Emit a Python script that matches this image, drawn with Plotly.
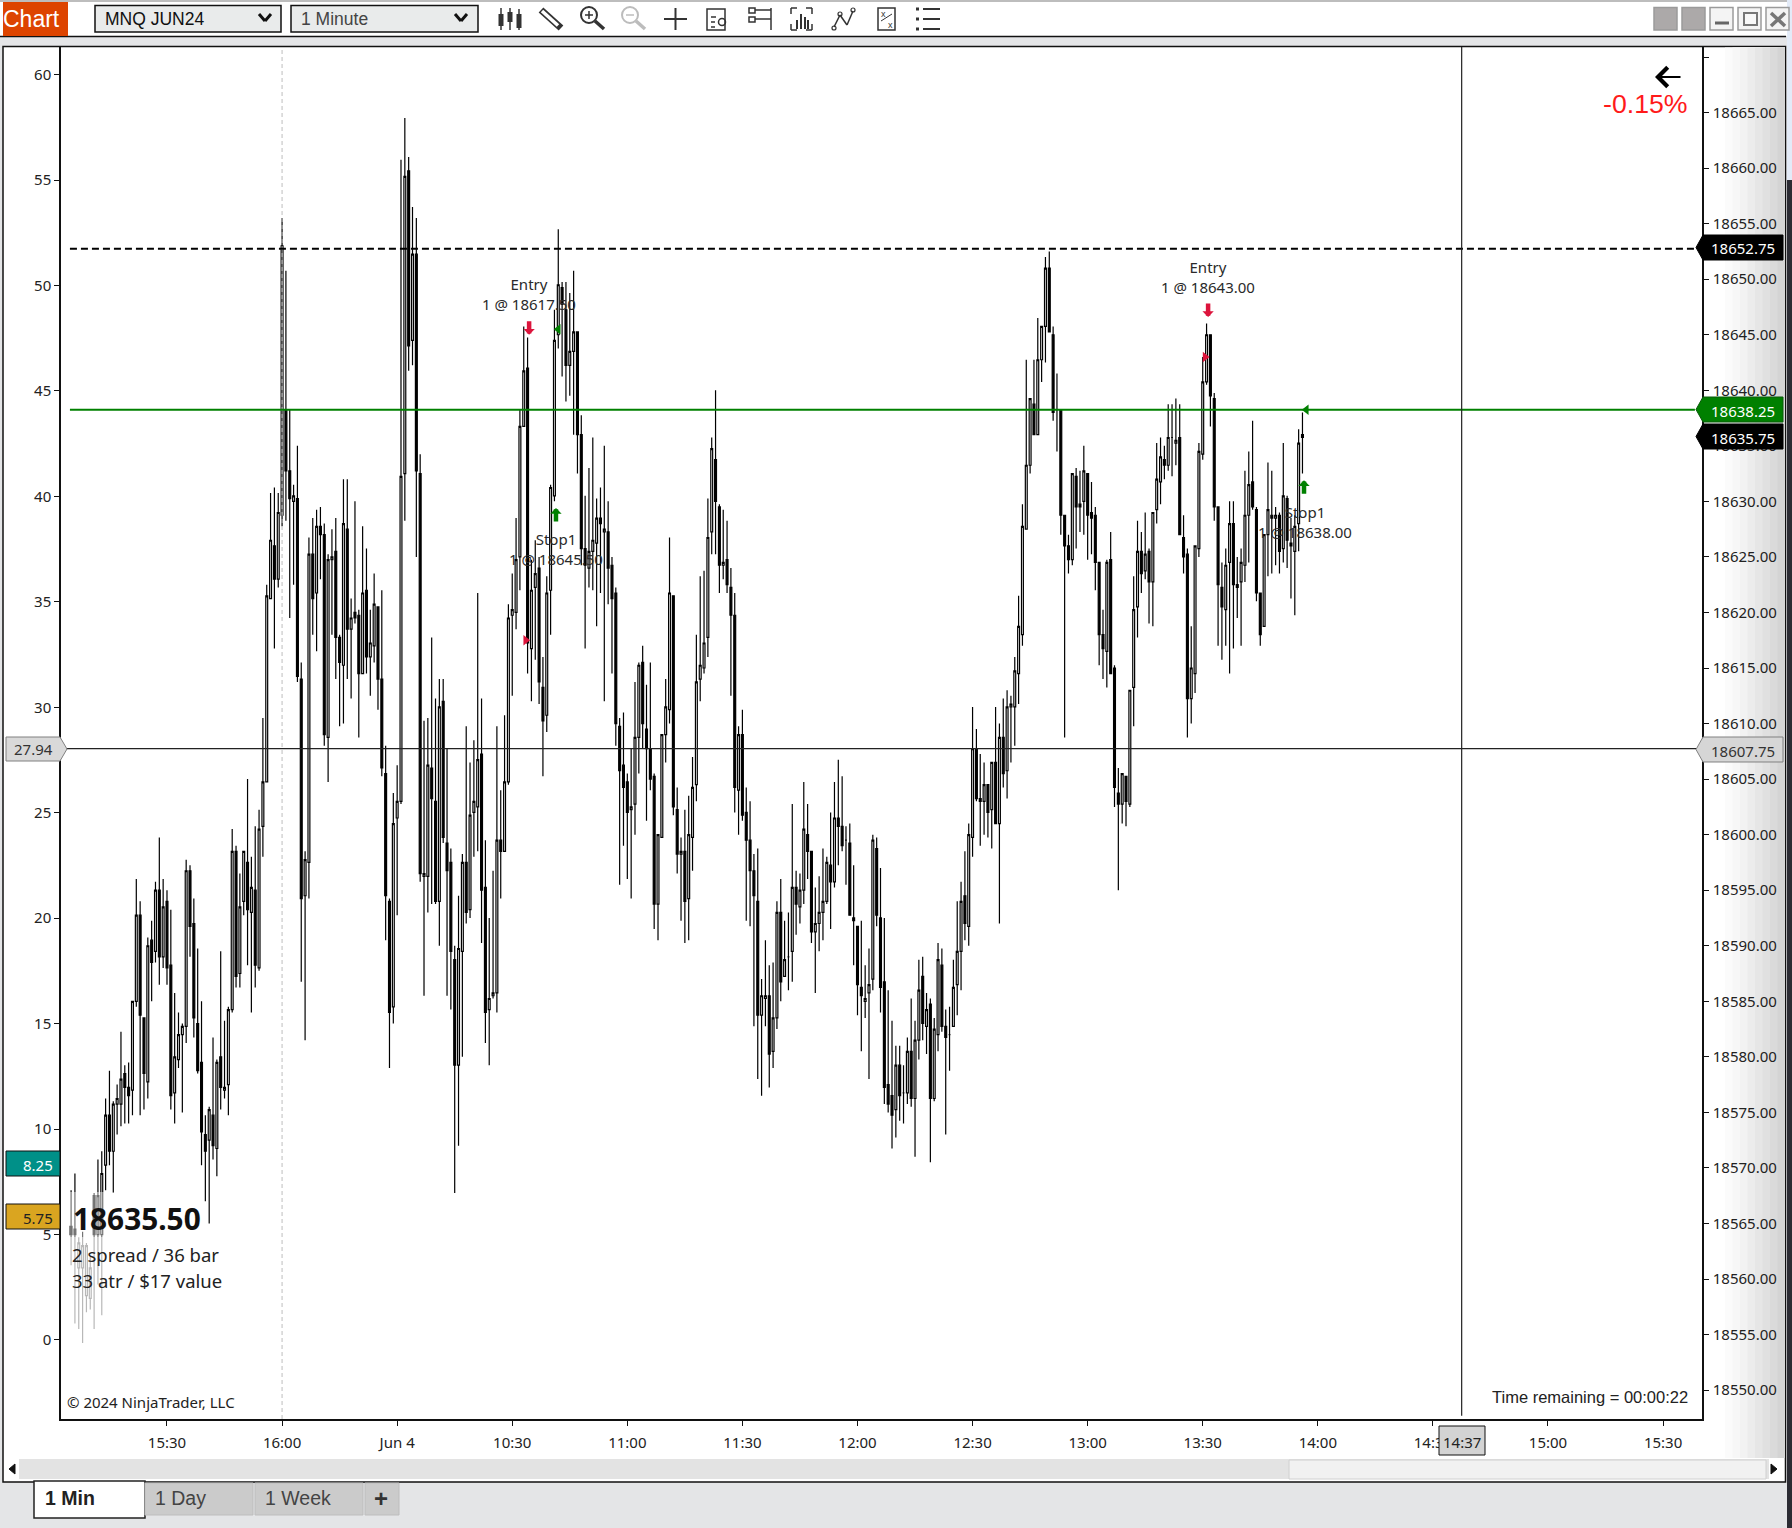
import plotly.graph_objects as go

W, H = 1792, 1528
SANS = "Noto Sans"
ARIAL = "Liberation Sans"

# bars are numbered from the first 15:30 on the axis, one per minute
first_bar = -25
tick_bars = [0, 30, 60, 90, 120, 150, 180, 210, 240, 270, 300, 330, 360, 390]
tick_labels = ["15:30", "16:00", "Jun 4", "10:30", "11:00", "11:30", "12:00", "12:30", "13:00", "13:30", "14:00", "14:30", "15:00", "15:30"]
price_ticks = [18550, 18555, 18560, 18565, 18570, 18575, 18580, 18585, 18590, 18595, 18600, 18605, 18610, 18615, 18620, 18625, 18630, 18635, 18640, 18645, 18650, 18655, 18660, 18665, 18670]
pct_ticks = [0, 5, 10, 15, 20, 25, 30, 35, 40, 45, 50, 55, 60]

# prices below are points above this
price_base = 18500

highs = [
    68, 69.5, 63.75, 64.25, 63.25, 62, 67.75, 70.75, 71.5, 76.25,
    78.75, 76, 77.5, 82.25, 79.25, 79.5, 85, 96, 94, 83.5,
    90.75, 92.25, 95.75, 99.75, 96, 95, 93.25, 85.75, 84, 83,
    97.75, 97.25, 94.25, 89.75, 85, 74.75, 75.5, 81.75, 79.75, 89.5,
    83.25, 84.5, 100.5, 99, 96.5, 98.5, 105, 98, 100.75, 102.25,
    110.5, 122.5, 130.75, 131.25, 130.75, 155.5, 150.75, 138.25, 131.5, 135,
    115.5, 98.5, 126.75, 128.5, 129.25, 129.5, 128, 125.25, 127.5, 128.5,
    118, 132, 132, 121.25, 130, 120.25, 127.75, 125.75, 120.25, 123.5,
    120.5, 122, 108, 94.25, 103.75, 106.25, 160.75, 164.5, 161, 156.5,
    155.5, 134.25, 110.25, 110.5, 117.75, 112.25, 114, 114, 107.75, 98.75,
    90, 94.5, 98.25, 109.75, 106.5, 108.5, 121.75, 112.25, 99.5, 92.5,
    96.75, 109.75, 104, 110.75, 120.75, 123.5, 128.5, 138.25, 145.75, 144.75,
    124.75, 126.5, 125, 116, 123.25, 131.5, 147.25, 154.5, 149.75, 149.75,
    148.75, 150.75, 145.25, 137.75, 130.5, 133, 135.75, 130.25, 131.25, 135,
    130, 125, 122.25, 110.5, 111, 105.5, 107.75, 113.75, 115.5, 117,
    113.5, 115.5, 105.5, 100, 109, 114, 126.75, 121.5, 104.25, 99.75,
    102.25, 103.5, 107, 118, 123.25, 123.75, 130.25, 135.75, 140, 129.75,
    129.25, 128.25, 124, 121.75, 109.75, 111.25, 104.25, 103, 98.25, 98.75,
    87, 90.5, 88.25, 88.5, 94, 96, 92.25, 93, 102.75, 96.75,
    96.5, 104.75, 102.75, 98.5, 95.25, 96.25, 98.75, 98, 102, 104.75,
    106.75, 105.25, 100.75, 101, 97.25, 91.75, 92.25, 88.25, 89.75, 100,
    99.75, 97, 92.5, 86, 83.25, 81, 81, 79.25, 81.75, 85.25,
    83.25, 88.75, 89, 85.75, 85.25, 83.5, 90.25, 89.75, 84.25, 84.5,
    88.75, 94, 95.75, 98.5, 101, 111.5, 109.5, 107.25, 106.5, 104.5,
    106.5, 111.5, 110, 112.25, 113, 112.5, 116, 121.5, 129.75, 142.75,
    139.25, 142.75, 146.5, 145.75, 152, 152.5, 145.75, 141.5, 138.25, 128.75,
    127, 132.5, 133, 132.75, 135, 132.5, 131.75, 129.5, 124.5, 120.25,
    124.75, 127.25, 115.25, 106, 105.5, 105.25, 113, 123.25, 128.25, 127.25,
    129, 125.75, 129, 135.25, 135.75, 135, 138.75, 138.75, 139.25, 138.75,
    128.75, 125.75, 118.75, 126, 135.25, 143, 146, 145, 139.75, 129.5,
    124.5, 125.75, 130, 130, 125, 125.75, 132.75, 134.5, 137.25, 129.5,
    121.75, 127, 133.5, 132.75, 129.5, 129, 135.25, 130.5, 128.5, 128.75,
    136.5, 138,
]
body_tops = [
    64.75, 64.5, 63.25, 63, 63, 61, 67.5, 67.5, 69.5, 74.75,
    74.75, 75.75, 76.25, 78, 78.5, 77.25, 85, 92.75, 92.75, 83.5,
    90, 90.5, 95, 95, 93.5, 94, 88.25, 80, 82, 82.75,
    96.75, 96.75, 92, 83, 79.5, 73, 75.25, 74.75, 79.5, 80,
    77.25, 84.25, 98.5, 98.5, 93.5, 98.5, 97.5, 95.25, 95, 100.5,
    104.75, 121.5, 126.5, 126, 129, 153, 138.25, 132.75, 130.5, 130.25,
    114, 97.75, 125.25, 125.25, 127.75, 127.75, 127, 124.75, 125, 125.5,
    117.75, 128, 127.5, 119.5, 120, 119.75, 121.75, 122, 117.25, 120.75,
    120.5, 114, 105.5, 94, 101, 103, 132.25, 159.25, 159.75, 152.25,
    152.25, 132.5, 96.5, 106.25, 106, 103, 111.5, 112, 99.25, 97.5,
    88.75, 89.75, 97.5, 97.5, 101.75, 103, 106.75, 107.25, 95.25, 85.25,
    85.75, 99.5, 99.5, 104.75, 119.5, 120.25, 124.75, 136.75, 141.75, 142,
    122, 123.5, 124, 113.25, 121.75, 131.25, 144.5, 149.5, 149.25, 147.25,
    143.5, 145.25, 145.25, 136, 125.75, 125.5, 126.5, 128.5, 128.5, 127.5,
    127.25, 124.25, 121.75, 109.75, 106.25, 104.75, 102.5, 108.75, 115.25, 115.5,
    109.5, 107.75, 105.25, 100, 109, 111.5, 121.75, 121.5, 102.25, 98.5,
    98.5, 100, 104.25, 113.75, 115.25, 117.25, 126.75, 134.75, 133.75, 129.5,
    124.5, 124.75, 122.25, 119.75, 109, 109, 102, 99.5, 96.75, 94,
    85.5, 85.5, 85.5, 83.5, 93, 93, 88.75, 89, 95.25, 95.25,
    95, 100.5, 100, 98.5, 92, 93, 94, 97.5, 97.25, 101.5,
    101.5, 100.75, 99.5, 99.25, 92.5, 91.75, 86.25, 85.25, 86.5, 99.5,
    98.75, 92.5, 86.75, 77.5, 76.5, 79.25, 79.25, 76.75, 80.5, 80.5,
    81.5, 86, 87.25, 84.25, 84.75, 82.5, 88.75, 88.25, 82.75, 82,
    86.25, 89.5, 94, 94.5, 100, 107.75, 107.75, 103.25, 104.5, 104.5,
    106.5, 106.5, 108.75, 108.75, 111.5, 111.75, 114.75, 118.75, 127.75, 133.25,
    139.25, 138.75, 142.75, 145.75, 151, 151, 145, 138.25, 138.25, 128.75,
    126, 132.5, 132.25, 129.75, 132.75, 132.5, 129, 128.75, 124.5, 118,
    124.5, 124.75, 115, 103.75, 105.5, 105.25, 113, 120.25, 125.5, 125.5,
    125.25, 125.5, 129, 132, 134, 133.75, 135.75, 135.75, 135.5, 135.75,
    126.75, 125.25, 115, 126, 134.5, 140.75, 145, 145, 139.25, 129.5,
    122.25, 124.25, 128, 128, 122.5, 124.5, 128.75, 131.5, 131.75, 129.25,
    121.75, 127, 129.25, 128.75, 128.75, 128.75, 130.5, 130.25, 126.25, 127.75,
    135.25, 136,
]
body_bottoms = [
    64, 64, 61, 61, 58.5, 58.25, 64, 64, 64, 70.25,
    71.5, 71.5, 75.75, 75.75, 77.25, 76.5, 77, 85, 83.75, 78.5,
    77.75, 88.5, 89.5, 89, 89, 88, 76.5, 76.75, 79.75, 82,
    82.75, 91.75, 83.5, 78.75, 73.25, 71.5, 72.5, 72, 71.75, 77.25,
    77, 77.5, 84.25, 87.25, 87.5, 94, 93.25, 93, 88.25, 88,
    100.75, 104.75, 121.25, 123, 123, 128.75, 132.75, 130.25, 130, 114.25,
    94.25, 94.5, 97.5, 121.25, 121.75, 127, 109, 108.75, 124.75, 117.75,
    115.5, 115.25, 118.5, 118.5, 119.5, 114.5, 114.5, 116, 116, 117,
    114, 106, 94.5, 84, 84.5, 101.5, 103, 132.5, 144, 144.5,
    132.75, 96.5, 96.25, 96.25, 103.25, 94, 94, 99.75, 96.75, 89.5,
    79.25, 79.25, 89.5, 93, 93.25, 102, 102.5, 95, 84, 84.25,
    85.5, 85.75, 98.5, 98.5, 104.75, 119.75, 120, 125, 136.75, 117.25,
    116.75, 122.25, 113.75, 110.25, 110.75, 122, 130.5, 145, 147.75, 142.25,
    142.25, 143.5, 136, 125.75, 124.25, 124, 125.5, 126.25, 128, 127.25,
    124, 121.25, 110, 105.75, 104.25, 102, 102.25, 102.75, 108.75, 110,
    107.75, 105, 93.75, 93.75, 99.75, 109, 111.25, 102.5, 98.25, 98.25,
    94, 94.25, 99.75, 104.5, 114, 115, 117.75, 127.25, 130, 124.25,
    124.25, 122.5, 119.75, 104.25, 104, 101.75, 99.5, 96.75, 94.5, 83.75,
    83.75, 85.25, 80.25, 80.5, 83.5, 86.75, 87.25, 89, 89.5, 93.75,
    93.5, 95, 98.5, 91.25, 91.25, 92, 93, 94, 95.75, 95.75,
    100.75, 99, 99.5, 92.75, 92.25, 86.5, 85.5, 85, 85.75, 87,
    92.75, 86.25, 77.25, 75.75, 74.75, 75.25, 76.5, 76.75, 76.75, 76.25,
    76.25, 81.5, 83, 82.75, 76.25, 76.25, 82, 82.75, 81.75, 82,
    82.75, 86.5, 89.5, 92, 91.75, 99.75, 103.25, 103, 103, 102,
    102.25, 101, 101, 105.5, 105.75, 111.5, 111.5, 114.5, 118, 127.5,
    133.25, 136, 136, 142.75, 145.75, 145.25, 138, 138.25, 128.75, 126,
    124.75, 124.75, 129.5, 129.5, 130, 128.75, 128.5, 124.5, 118, 116.75,
    116.5, 114.5, 104.25, 102.75, 102.75, 103, 102.75, 113.25, 120.5, 123.5,
    123.75, 122.75, 122.75, 129.25, 131.75, 133.25, 133.25, 135.75, 135.25, 127,
    125, 112.25, 112.25, 114.5, 125.75, 134.25, 140.75, 139.5, 129.5, 122.5,
    120.5, 120.25, 124.5, 122.5, 122.25, 122.75, 124.25, 128.75, 129.5, 121.75,
    118, 118.75, 127, 128.5, 128.5, 125.5, 125.75, 126.5, 126, 125.5,
    128, 135.75,
]
lows = [
    61.25, 56, 55.5, 54.25, 57, 57.25, 55.5, 59.5, 56.75, 68,
    70.25, 67.75, 73, 73.75, 74, 74, 74.75, 84.5, 74.75, 75.25,
    76.25, 85, 88.5, 86.5, 88, 86.5, 75.25, 74, 79, 75,
    81.25, 89, 81.75, 78.5, 70.25, 67, 65, 70.75, 69.25, 75.25,
    76.25, 74.75, 84, 86.25, 86.25, 92.75, 88.25, 84, 86.25, 87.75,
    98, 104.75, 121.25, 116.75, 122.25, 127.75, 128.25, 119.5, 122.5, 113.75,
    86.75, 81.5, 94.25, 118, 116.5, 123, 108, 104.75, 118, 114,
    109.75, 110, 114, 112.25, 119, 108.75, 114.5, 114.5, 112.5, 115.5,
    111.25, 105.25, 90.5, 79, 83, 92.75, 102.75, 128.25, 141.75, 142.25,
    125, 95.75, 85.5, 93, 93.75, 93.75, 90, 99.25, 85.5, 84.25,
    67.75, 72, 80, 92, 92.5, 98, 98.5, 90.25, 81.25, 79.25,
    85.25, 84, 94.25, 98.5, 104.5, 112.5, 118.5, 122, 136.75, 114.5,
    112, 115.75, 111.75, 105.25, 109.25, 118, 130, 143.75, 141.25, 139,
    139.5, 136, 132.5, 124.25, 116.75, 122.25, 122, 118.75, 121.75, 112,
    120.75, 114.5, 108, 95.5, 99, 96, 94.25, 100, 105.5, 107.75,
    101.25, 104, 91.5, 90.5, 99.75, 106.5, 110, 101.75, 96.5, 92.25,
    90.25, 90.5, 96.75, 103, 112, 114.5, 116, 125.25, 125.25, 121.75,
    123, 121.75, 112.5, 102, 100, 101.25, 92.25, 91.75, 82.75, 78,
    76.5, 82.75, 77.25, 79, 82.5, 85, 87.25, 86, 86.75, 91,
    92, 93.75, 96, 90.25, 85.75, 89.5, 90.5, 93.75, 91.5, 95.25,
    97.25, 98.5, 95.5, 92.75, 88.25, 83.75, 80.5, 83.5, 78, 86,
    91.75, 84, 75.75, 75, 71.75, 72.75, 74.25, 74, 75.75, 75.5,
    71, 79.75, 81.5, 80.25, 70.5, 76, 80.5, 82.25, 73, 78.75,
    82.75, 83.75, 86, 90.5, 90, 98, 103, 99, 100, 99.75,
    98.75, 101, 92, 104.25, 103.25, 106.5, 108, 111.75, 117, 127.5,
    132.5, 136, 136, 140.75, 142.5, 145.25, 137.25, 134.5, 127, 108.75,
    123.5, 124.25, 125.75, 127.25, 127, 124.75, 125.25, 122, 115.25, 114,
    113.25, 114.5, 102.5, 95, 101, 100.75, 102.5, 109.75, 117.75, 121.75,
    123, 119, 118.75, 128, 129.75, 132, 132.75, 132.25, 133.25, 127,
    123.5, 108.75, 110, 112.75, 125, 133.75, 140.5, 136.75, 128.25, 117,
    115.75, 117, 114.5, 116.75, 119.5, 117, 122.75, 124.5, 129.25, 121,
    117, 118.75, 123.25, 123.5, 124.25, 123.5, 124.5, 124, 121.25, 119.75,
    125.5, 132.5,
]
# U hollow bar, D filled bar
bar_dirs = (
    "DDUUUUDUUU" "DUUUDDUUDD" "UDUDUDDUUU" "UDDDDDUDUD" "UUUDUUDUDU" "UUUDUUDDUD"
    "DUUDUDDUUD" "DUDUDDUDUU" "DDDDUUUUDU" "DDUUDDUDDD" "DUUDUUUDDU" "UUDUUUUUUD"
    "UUDDUUUUDD" "UUDDDUUUDU" "DDDDDDUUUD" "DDDUUUUDDU" "DUUUUUUUDD" "UDDDUDDDDD"
    "UUDUUDUUUD" "UUDDUUUUDU" "DDUDDDDUUU" "DDDDDUDUUD" "UUDUDUUDDU" "UUUDUUDDUD"
    "UDUDUUUUUU" "UDUUUDDUDD" "DUDDUDDDDD" "UDDDUDUUUD" "UDUUUDUUUD" "DDUUUUUDDD"
    "DUUDDUUUDD" "DUUDUDUDDU" "UD"
)
assert len(highs) == len(body_tops) == len(body_bottoms) == len(lows) == len(bar_dirs), (
    len(highs), len(body_tops), len(body_bottoms), len(lows), len(bar_dirs))

stop_price = 18652.75
target_price = 18638.25
crosshair_price = 18607.75
crosshair_pct = 27.94
crosshair_bar = 337.5
session_bar = 30
sell_markers_x = [93.5, 270.6]
sell_markers_y = [18617.5, 18643.0]
cover_markers_x = [102, 297]
cover_markers_y = [18645.5, 18638.25]


def px(x):
    return x / W


def py(y):
    return 1 - y / H


shapes = []
notes = []


def rect(x0, y0, x1, y1, fill, line=None, lw=1, layer="below", opacity=1):
    shapes.append(dict(type="rect", xref="paper", yref="paper", x0=px(x0), x1=px(x1), y0=py(y0), y1=py(y1),
                       fillcolor=fill, line=dict(color=line or "rgba(0,0,0,0)", width=lw if line else 0),
                       layer=layer, opacity=opacity))


def seg(x0, y0, x1, y1, color="#222", lw=1.5, layer="below"):
    shapes.append(dict(type="line", xref="paper", yref="paper", x0=px(x0), x1=px(x1), y0=py(y0), y1=py(y1),
                       line=dict(color=color, width=lw), layer=layer))


def ring(cx, cy, r, color, lw=2):
    shapes.append(dict(type="circle", xref="paper", yref="paper", x0=px(cx - r), x1=px(cx + r), y0=py(cy - r), y1=py(cy + r),
                       line=dict(color=color, width=lw), layer="below"))


def poly(points, fill, line=None, layer="above"):
    d = "M" + " L".join(f"{px(x):.5f},{py(y):.5f}" for x, y in points) + " Z"
    shapes.append(dict(type="path", xref="paper", yref="paper", path=d, fillcolor=fill,
                       line=dict(color=line or fill, width=1), layer=layer))


def label(x, y, text, size=15, color="#222", family=SANS, anchor="center", bold=False):
    notes.append(dict(xref="paper", yref="paper", x=px(x), y=py(y), text=f"<b>{text}</b>" if bold else text,
                      showarrow=False, xanchor=anchor, yanchor="middle", borderpad=0,
                      font=dict(size=size, color=color, family=family)))


def data_note(bar, price, text):
    notes.append(dict(x=bar, y=price, xref="x", yref="y", text=text, showarrow=False,
                      font=dict(size=15, color="#2a2a2a", family=SANS)))


def exec_arrow(bar, price, color, tail):
    notes.append(dict(x=bar, y=price, xref="x", yref="y", ax=0, ay=tail, text="", showarrow=True,
                      arrowhead=1, arrowsize=0.42, arrowwidth=4.5, arrowcolor=color))


# window chrome
rect(0, 0, W, 2, "#bdbdbd")
rect(0, 2, W, 36, "white")
seg(0, 36.5, W - 6, 36.5, "#111", 1.5)
rect(3, 46.5, 1785.5, 1482, "white", "#111", 1.5)
for k, c in enumerate(["#fbfbfb", "#f7f7f7", "#f2f2f2", "#ececec", "#e6e6e6", "#e0e0e0", "#dadada", "#d4d4d4"]):
    rect(1725 + k * 7.5, 47.5, 1785, 1458, c)
rect(1787, 0, W, 180, "#e3ebf8")
rect(1787, 180, W, H, "#2b2b33")

# toolbar
rect(3, 2, 68, 36, "#dd4400")
label(31, 19, "Chart", 23, "white", ARIAL)
for x0, x1, name, col, chev in [(95, 281, "MNQ JUN24", "#111", 265), (291, 478, "1 Minute", "#444", 461)]:
    rect(x0, 5.5, x1, 32, "#e9ebeb", "#111", 1.5)
    label(x0 + 9, 19, name, 17.5, col, ARIAL, "left")
    seg(chev - 6, 14, chev, 21, "#111", 3)
    seg(chev, 21, chev + 6, 14, "#111", 3)

ink = "#333"
# candles icon
for x, a, b, c, d in [(501, 8, 14, 26, 30), (510, 8, 12, 22, 30), (519, 9, 14, 28, 30)]:
    seg(x, a, x, d, ink, 1.5)
    rect(x - 2.5, b, x + 2.5, c, ink)
# pencil
seg(541, 10, 561, 28, ink, 7)
seg(542, 11, 558, 25.5, "white", 3.5)
# zoom in / out
ring(589, 15, 8, ink)
seg(595, 21, 604, 29, ink, 3.5)
seg(585, 15, 593, 15, ink, 1.5)
seg(589, 11, 589, 19, ink, 1.5)
ring(630, 15, 8, "#bcbcbc")
seg(636, 21, 645, 29, "#bcbcbc", 3.5)
seg(626, 15, 634, 15, "#bcbcbc", 1.5)
# crosshair
seg(664, 19, 687, 19, ink, 2)
seg(675.5, 8, 675.5, 30, ink, 2)
# data box
rect(707, 9, 725, 30, "white", ink, 1.5)
seg(711, 17, 716, 17, ink, 1.5)
seg(711, 22, 715, 22, ink, 1.5)
seg(711, 27, 715, 27, ink, 1.5)
ring(722, 22, 3.5, ink, 1.5)
# drawing tools
rect(749, 8, 755, 13, "white", ink, 1.5)
rect(749, 17, 755, 22, "white", ink, 1.5)
seg(755, 10, 771, 10, ink, 1.5)
seg(755, 19, 771, 19, ink, 1.5)
seg(771, 8, 771, 30, ink, 1.5)
# bars in frame
for x0, x1, y in [(791, 797, 8), (806, 812, 8), (791, 797, 30), (806, 812, 30)]:
    seg(x0, y, x1, y, ink, 1.5)
seg(791, 8, 791, 14, ink, 1.5)
seg(812, 8, 812, 14, ink, 1.5)
seg(791, 24, 791, 30, ink, 1.5)
seg(812, 24, 812, 30, ink, 1.5)
for x, y in [(797, 20), (801, 14), (805, 17), (808, 20)]:
    seg(x, y, x, 29, ink, 2)
# strategy lines
seg(834, 27, 840, 15, ink, 1.5)
seg(840, 15, 847, 25, ink, 1.5)
seg(847, 25, 853, 11, ink, 1.5)
ring(834, 28, 2, ink, 1.2)
ring(840, 14, 2, ink, 1.2)
ring(853, 10, 2, ink, 1.2)
# indicators
rect(878, 8, 895, 30, "white", ink, 1.5)
seg(881, 21, 892, 14, ink, 1)
label(883, 14, "x", 9, ink, ARIAL)
label(890, 25, "x", 9, ink, ARIAL)
# list
for y in [9, 19, 29]:
    rect(916, y - 1.5, 919, y + 1.5, ink)
    seg(923, y, 940, y, ink, 2)
# window buttons
for x in [1654, 1682]:
    rect(x, 7.5, x + 23, 30, "#aca9a9", "#9a9a9a", 1.5)
for x in [1710, 1738, 1766]:
    rect(x, 7.5, x + 23, 30, "#f4f4f4", "#9a9a9a", 1.5)
seg(1715, 23, 1729, 23, "#666", 3)
rect(1744, 13, 1757, 25, "#f8f8f8", "#777", 2)
seg(1771, 13, 1785, 26, "#777", 3.5)
seg(1785, 13, 1771, 26, "#777", 3.5)

# scrollbar and tabs
rect(5, 1459, 1784, 1479, "#e3e3e3")
rect(5, 1459, 19, 1479, "white")
poly([(15, 1464), (15, 1474), (9, 1469)], "#111", layer="below")
rect(1289, 1460, 1766, 1479, "#f1f1f1", "#d0d0d0", 1)
rect(1769, 1459, 1784, 1479, "white")
poly([(1771, 1464), (1771, 1474), (1777, 1469)], "#111", layer="below")
rect(34, 1481, 145, 1518, "white", "#222", 1.5)
rect(145, 1483, 253, 1515, "#cbcbcb", "#bdbdbd", 1)
rect(255, 1483, 363, 1515, "#cbcbcb", "#bdbdbd", 1)
rect(365, 1483, 399, 1515, "#cbcbcb", "#bdbdbd", 1)
label(44, 1498, "1 Min", 19.5, "#222", ARIAL, "left", bold=True)
label(154, 1498, "1 Day", 19.5, "#444", ARIAL, "left")
label(264, 1498, "1 Week", 19.5, "#444", ARIAL, "left")
label(381, 1498, "+", 24, "#333", ARIAL, bold=True)

# the info text sits on white boxes that wash out the first bars
rect(70, 1192, 200, 1237, "white", layer="above", opacity=0.45)
rect(70, 1237, 200, 1345, "white", layer="above", opacity=0.72)
label(72, 1218, "18635.50", 29.8, "#111", SANS, "left", bold=True)
label(71, 1254, "2 spread / 36 bar", 18.5, "#222", SANS, "left")
label(71, 1280, "33 atr / $17 value", 18.5, "#222", SANS, "left")
label(66, 1402, "© 2024 NinjaTrader, LLC", 15, "#222", SANS, "left")
label(1689, 1397, "Time remaining = 00:00:22", 16.5, "#222", ARIAL, "right")
label(1645, 104, "-0.15%", 26.7, "#ff1a1a", ARIAL)
notes.append(dict(xref="paper", yref="paper", x=px(1655), y=py(77), axref="pixel", ayref="pixel", ax=27, ay=0, text="",
                  showarrow=True, arrowhead=4, arrowsize=1.7, arrowwidth=2.2, arrowcolor="black"))

# price tags
for top, fill, edge, txt, col in [(235, "black", "black", "18652.75", "white"),
                                  (397, "#008000", "#0a5a0a", "18638.25", "white"),
                                  (424, "black", "black", "18635.75", "white"),
                                  (737, "#d6d6d6", "#808080", "18607.75", "#333")]:
    poly([(1696, top + 12.5), (1703, top), (1783, top), (1783, top + 25), (1703, top + 25)], fill, edge)
    label(1743, top + 13.5, txt, 15, col)
poly([(6, 737), (60, 737), (67, 749), (60, 761), (6, 761)], "#d9d9d9", "#808080")
label(33, 749, "27.94", 15, "#333")
rect(6, 1151, 60, 1176, "#009088", "#111", 1, "above")
label(38, 1165, "8.25", 15, "white")
rect(6, 1204, 60, 1229, "#daa520", "#111", 1, "above")
label(38, 1218, "5.75", 15, "#222")
rect(1439, 1426, 1485, 1455, "#d3d3d3", "#111", 1, "above")
label(1462, 1442, "14:37", 15, "#222")

# order labels and execution arrows
data_note(94.4, 18648.7, "Entry<br>1 @ 18617.50")
data_note(101.3, 18625.7, "Stop1<br>1 @ 18645.50")
data_note(271.4, 18650.2, "Entry<br>1 @ 18643.00")
data_note(296.7, 18628.1, "Stop1<br>1 @ 18638.00")
exec_arrow(94.4, 18645.0, "#dc143c", -15)
exec_arrow(271.4, 18646.6, "#dc143c", -15)
exec_arrow(101.4, 18629.4, "#008000", 15)
exec_arrow(296.4, 18631.9, "#008000", 15)

bars = list(range(first_bar, first_bar + len(highs)))
opens = [price_base + (b if d == "U" else t) for t, b, d in zip(body_tops, body_bottoms, bar_dirs)]
closes = [price_base + (t if d == "U" else b) for t, b, d in zip(body_tops, body_bottoms, bar_dirs)]

fig = go.Figure()
fig.add_trace(go.Scatter(x=[session_bar, session_bar], y=[18547.4, 18670.9], mode="lines",
                         line=dict(color="#bdbdbd", width=1, dash="4px,3px"), hoverinfo="skip", showlegend=False))
fig.add_trace(go.Candlestick(
    x=bars,
    open=opens,
    high=[price_base + v for v in highs],
    low=[price_base + v for v in lows],
    close=closes,
    increasing=dict(fillcolor="white", line=dict(color="black", width=1.2)),
    decreasing=dict(fillcolor="black", line=dict(color="black", width=1.2)),
    showlegend=False,
))
fig.add_trace(go.Scatter(x=[-25.3, 398.3], y=[stop_price, stop_price], mode="lines",
                         line=dict(color="black", width=2, dash="7px,4px"), hoverinfo="skip", showlegend=False))
fig.add_trace(go.Scatter(x=[-25.3, 398.3], y=[target_price, target_price], mode="lines",
                         line=dict(color="#008000", width=2), hoverinfo="skip", showlegend=False))
fig.add_trace(go.Scatter(x=[crosshair_bar, crosshair_bar], y=[18547.7, 18670.9], mode="lines",
                         line=dict(color="#222", width=1.2), hoverinfo="skip", showlegend=False))
fig.add_trace(go.Scatter(x=[-27.6, 400.1], y=[crosshair_price, crosshair_price], mode="lines",
                         line=dict(color="#222", width=1.3), hoverinfo="skip", showlegend=False))
# keeps the left scale alive, the visible line is drawn on the price scale
fig.add_trace(go.Scatter(x=[-27.6, 400.1], y=[crosshair_pct, crosshair_pct], yaxis="y2", mode="lines",
                         line=dict(color="rgba(0,0,0,0)", width=1), hoverinfo="skip", showlegend=False))
fig.add_trace(go.Scatter(x=sell_markers_x, y=sell_markers_y, mode="markers",
                         marker=dict(symbol="triangle-right", size=9, color="#dc143c"), hoverinfo="skip", showlegend=False))
fig.add_trace(go.Scatter(x=cover_markers_x, y=cover_markers_y, mode="markers",
                         marker=dict(symbol="triangle-left", size=9, color="#008000"), hoverinfo="skip", showlegend=False))

tick_font = dict(size=15, color="#222", family=SANS)
fig.update_layout(
    width=W,
    height=H,
    autosize=False,
    margin=dict(l=0, r=0, t=0, b=0),
    paper_bgcolor="#e4e5e7",
    plot_bgcolor="white",
    showlegend=False,
    boxgap=0.3,
    shapes=shapes,
    annotations=notes,
    xaxis=dict(
        domain=[px(61), px(1702)],
        range=[-27.63, 400.15],
        rangeslider=dict(visible=False),
        showgrid=False,
        zeroline=False,
        tickmode="array",
        tickvals=tick_bars,
        ticktext=tick_labels,
        ticks="outside",
        ticklen=5,
        tickcolor="#111",
        tickfont=tick_font,
        ticklabelstandoff=4,
        showline=True,
        linecolor="#111",
        linewidth=1.5,
    ),
    yaxis=dict(
        domain=[py(1419), py(47)],
        range=[18547.4, 18670.9],
        side="right",
        anchor="x",
        showgrid=False,
        zeroline=False,
        tickmode="array",
        tickvals=price_ticks,
        ticktext=[f"{v:.2f}" if v < 18670 else "" for v in price_ticks],
        ticks="outside",
        ticklen=5,
        tickcolor="#111",
        tickfont=tick_font,
        ticklabelstandoff=1,
        showline=True,
        linecolor="#111",
        linewidth=1.5,
    ),
    yaxis2=dict(
        domain=[py(1419), py(47)],
        range=[-3.75, 61.31],
        overlaying="y",
        side="left",
        anchor="x",
        showgrid=False,
        zeroline=False,
        tickmode="array",
        tickvals=pct_ticks,
        ticks="outside",
        ticklen=5,
        tickcolor="#111",
        tickfont=tick_font,
        showline=True,
        linecolor="#111",
        linewidth=1.5,
    ),
)

fig.write_html("out.html", post_script="document.body.style.margin='0';", config=dict(displayModeBar=False))
